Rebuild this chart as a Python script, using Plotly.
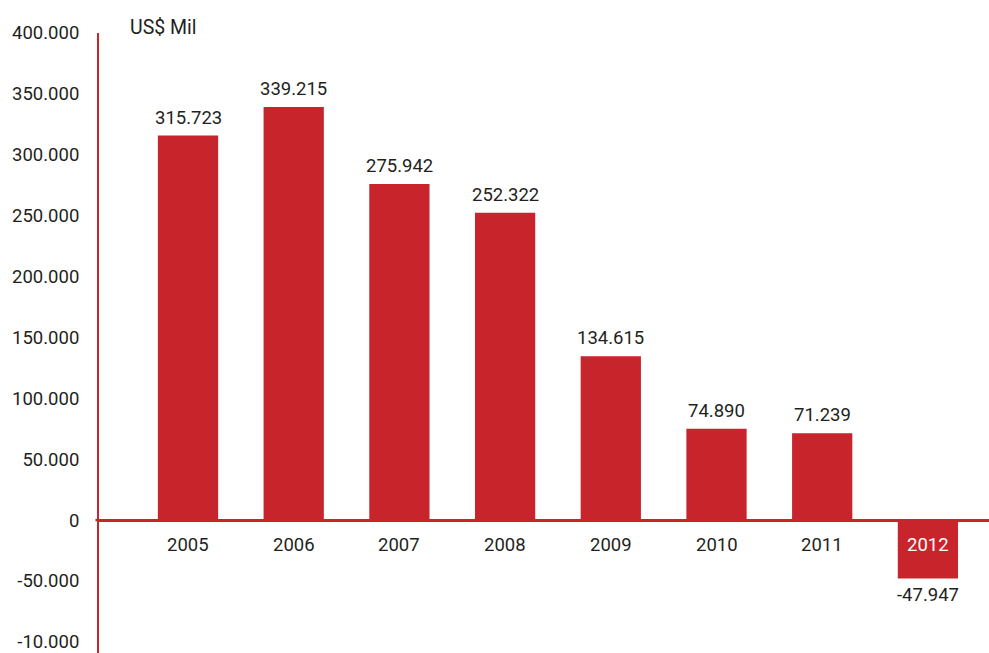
import plotly.graph_objects as go

# Annual result, US$ thousands (shown with "." as thousands separator)
years = ["2005", "2006", "2007", "2008", "2009", "2010", "2011", "2012"]
values = [315723, 339215, 275942, 252322, 134615, 74890, 71239, -47947]

tick_vals = [400000, 350000, 300000, 250000, 200000, 150000, 100000, 50000, 0, -50000, -100000]
tick_text = ["400.000", "350.000", "300.000", "250.000", "200.000", "150.000",
             "100.000", "50.000", "0", "-50.000", "-10.000"]

RED = "#c8242c"
INK = "#231f20"
FONT = "Roboto"
FS = 18.5

x_idx = list(range(len(years)))

fig = go.Figure()
fig.add_trace(go.Bar(
    x=x_idx,
    y=values,
    width=0.57,
    marker=dict(color=RED, line=dict(width=0)),
    hoverinfo="skip",
))


def fmt(v):
    s = f"{abs(v):,d}".replace(",", ".")
    return ("-" if v < 0 else "") + s


annotations = []
for i, (yr, v) in enumerate(zip(years, values)):
    # value label just beyond the end of the bar
    annotations.append(dict(
        x=i, y=v, xref="x", yref="y",
        text=fmt(v), showarrow=False,
        yanchor="middle", yshift=18 if v >= 0 else -17,
        font=dict(family=FONT, size=FS, color=INK),
    ))
    # category label: below the zero line, or inside the bar when negative
    annotations.append(dict(
        x=i, y=0, xref="x", yref="y",
        text=yr, showarrow=False,
        yanchor="middle", yshift=-25,
        font=dict(family=FONT, size=FS, color="white" if v < 0 else INK),
    ))

# unit label next to the top of the value axis
annotations.append(dict(
    x=0.033, y=1.0, xref="paper", yref="paper",
    xanchor="left", yanchor="bottom", yshift=-8,
    text="US$ Mil", showarrow=False,
    font=dict(family=FONT, size=19.5, color=INK),
))

fig.update_layout(
    width=989, height=653,
    margin=dict(l=99, r=0, t=33, b=0),
    paper_bgcolor="white", plot_bgcolor="white",
    showlegend=False,
    annotations=annotations,
    xaxis=dict(
        range=[-0.842, 7.578],
        showticklabels=False, showgrid=False, zeroline=False,
        showline=False, ticks="",
    ),
    yaxis=dict(
        range=[-109200, 400000],
        tickvals=tick_vals, ticktext=tick_text,
        tickfont=dict(family=FONT, size=FS, color=INK),
        ticks="", ticklabelstandoff=14,
        ticklabeloverflow="allow",
        showgrid=False,
        zeroline=True, zerolinecolor=RED, zerolinewidth=2.5,
        showline=True, linecolor=RED, linewidth=2,
    ),
)

# short tick extending the zero line left of the value axis
fig.add_shape(type="line", xref="paper", yref="y",
              x0=-0.004, x1=0, y0=0, y1=0,
              line=dict(color=RED, width=2.5))

fig.write_html("out.html")
